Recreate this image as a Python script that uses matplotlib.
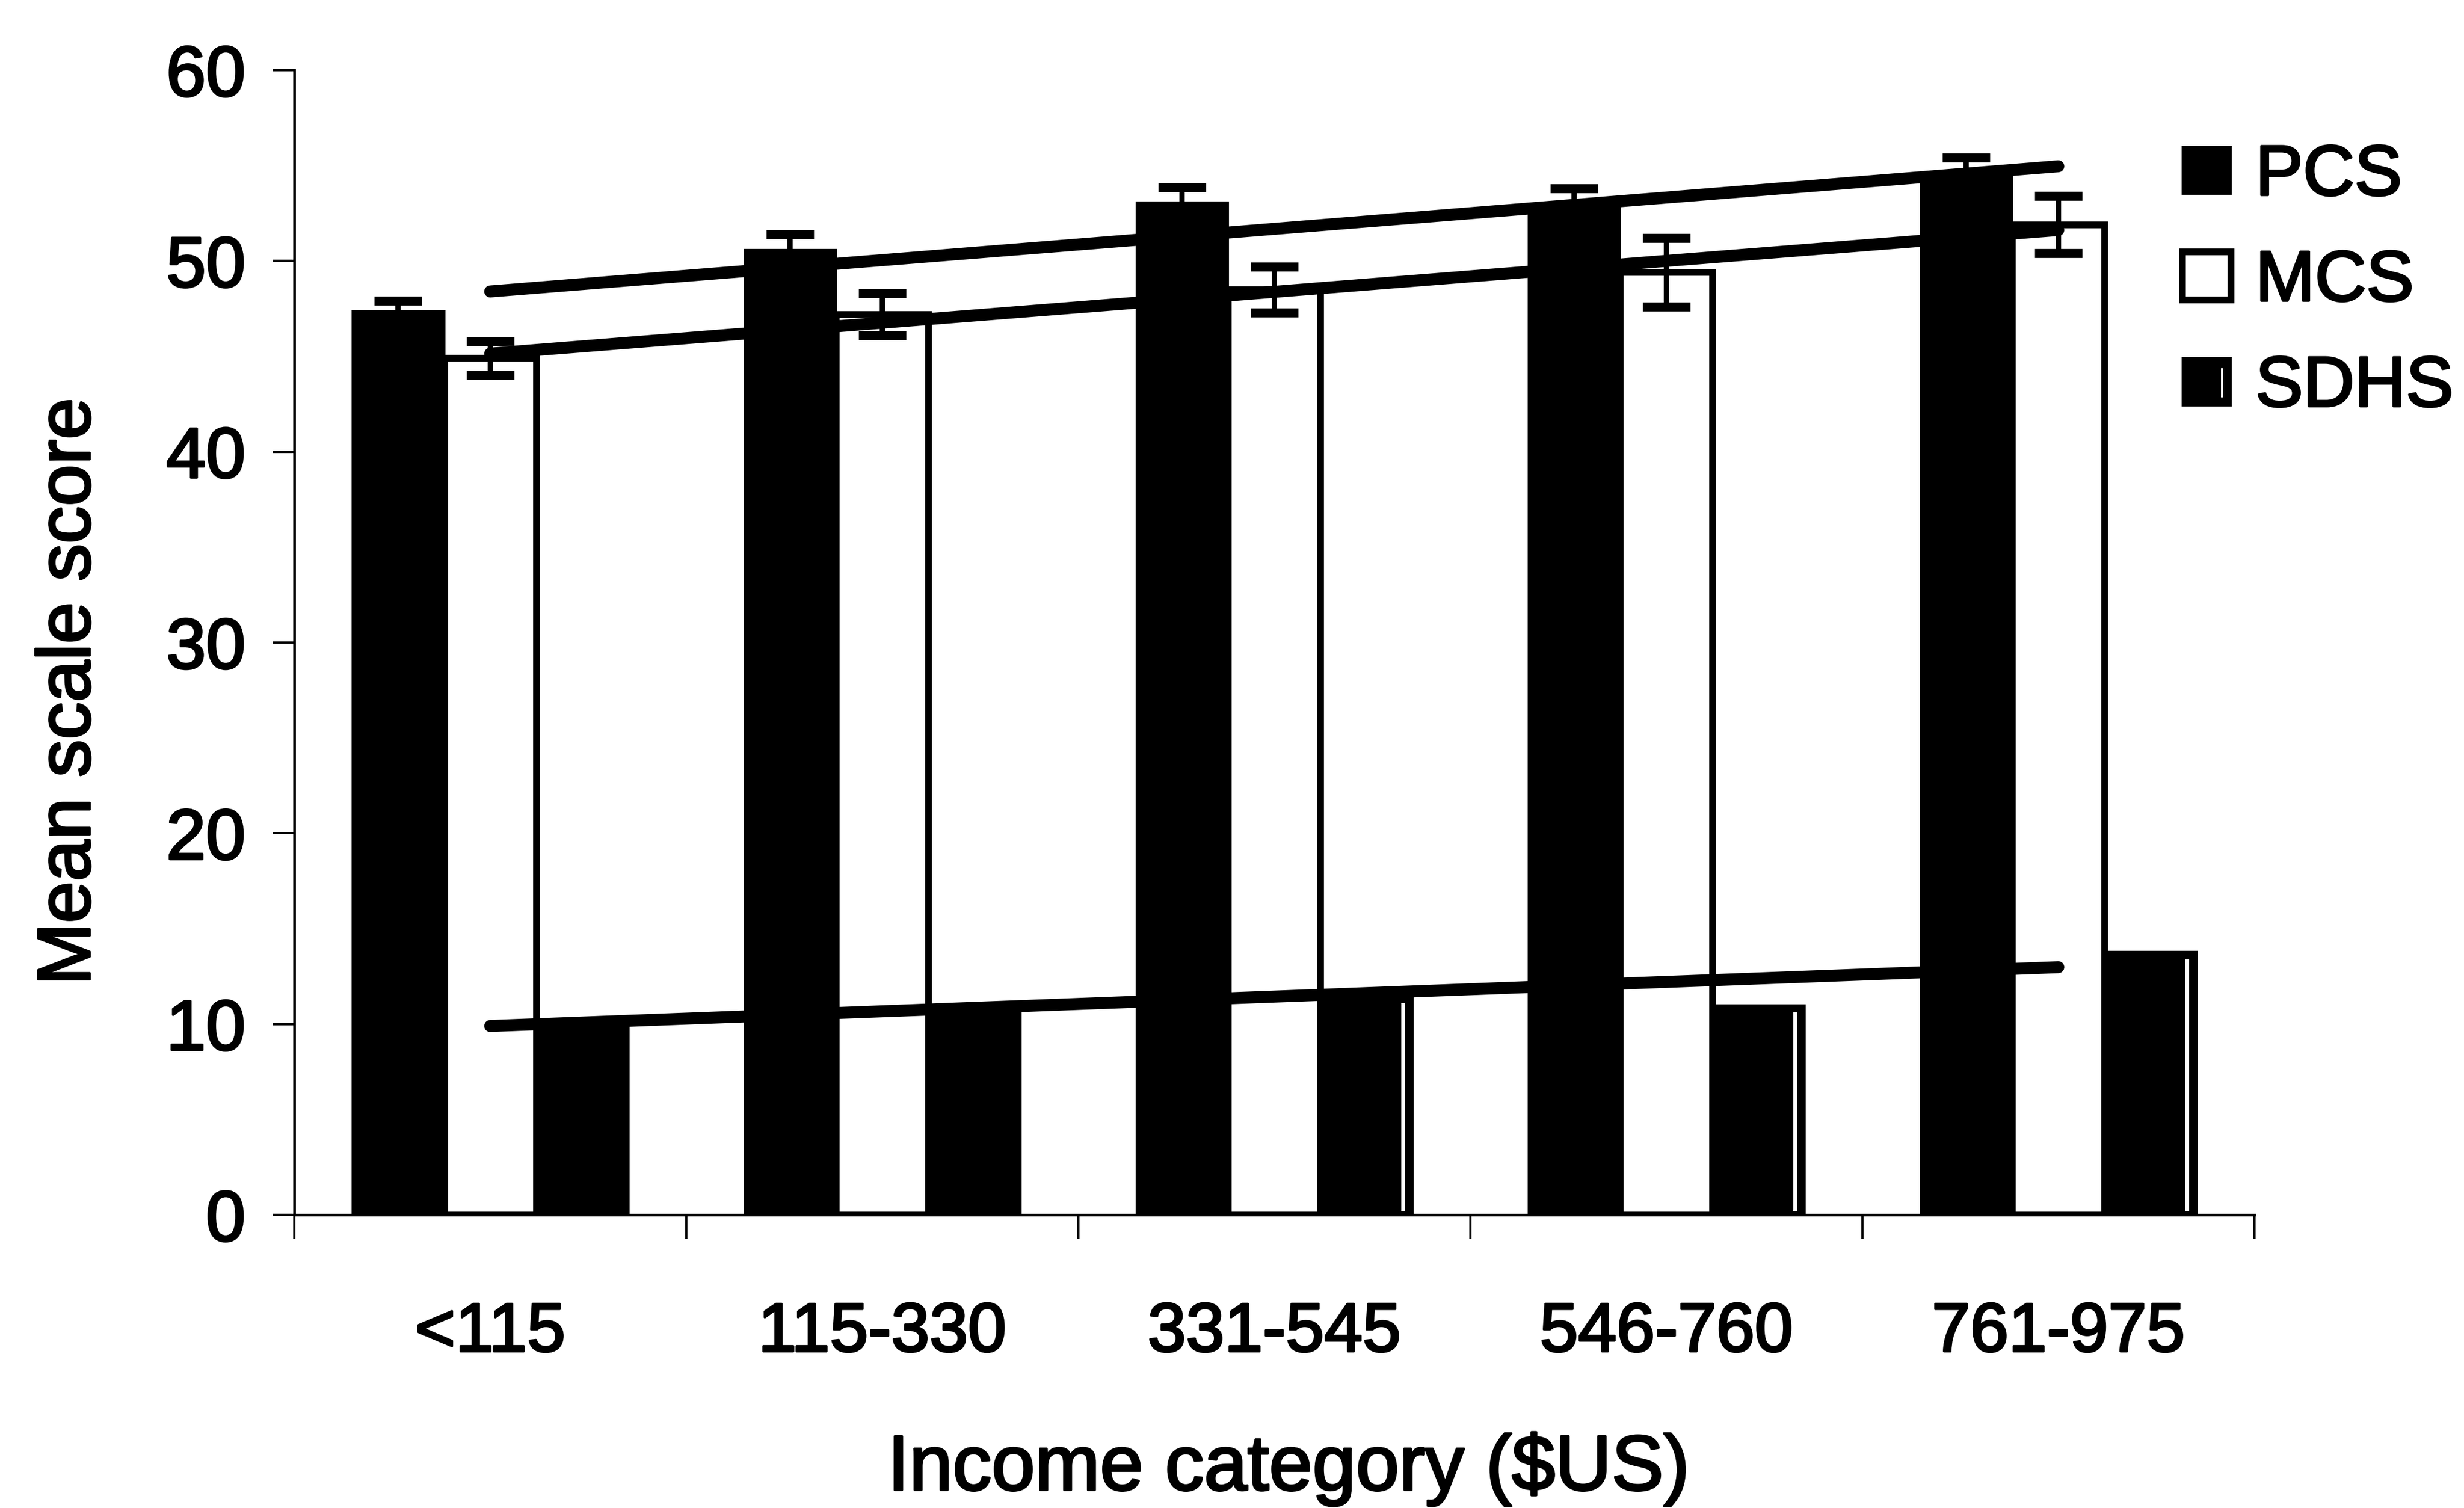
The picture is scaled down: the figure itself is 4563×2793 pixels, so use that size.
import numpy as np
import matplotlib
matplotlib.use("Agg")
import matplotlib.pyplot as plt
from matplotlib.patches import Patch, Rectangle
from matplotlib.legend_handler import HandlerPatch
import matplotlib.patheffects as pe

# Income groups and mean SF-36 / SDHS scale scores
categories = ["<115", "115-330", "331-545", "546-760", "761-975"]
series = ["PCS", "MCS", "SDHS"]
pcs_mean = [47.4, 50.6, 53.1, 52.8, 54.5]
pcs_err = [0.5, 0.8, 0.75, 1.0, 0.9]
mcs_mean = [44.9, 47.2, 48.5, 49.4, 51.9]
mcs_err = [0.9, 1.1, 1.2, 1.8, 1.5]
sdhs_mean = [10.0, 10.9, 11.5, 11.0, 13.8]
y_ticks = [0, 10, 20, 30, 40, 50, 60]

plt.rcParams["font.family"] = ["Liberation Sans", "DejaVu Sans"]
heavy = [pe.withStroke(linewidth=3, foreground="black")]


class StripedHandler(HandlerPatch):
    """Solid black swatch with a thin light streak near its right side."""

    def create_artists(self, legend, orig_handle, xdescent, ydescent,
                       width, height, fontsize, trans):
        base = Rectangle((-xdescent, -ydescent), width, height, facecolor="black",
                         edgecolor="black", linewidth=2, transform=trans)
        streak = Rectangle((-xdescent + 0.80 * width, -ydescent + 0.17 * height),
                           0.05 * width, 0.60 * height, facecolor="white",
                           linewidth=0, transform=trans)
        return [base, streak]


fig = plt.figure(figsize=(45.63, 27.93), dpi=100)
ax = fig.add_axes([0.1194, 0.1944, 0.7955, 0.7591])

x = np.arange(len(categories))
w = 0.235

ax.bar(x - w, pcs_mean, w, color="black", edgecolor="black", linewidth=2, zorder=2)
ax.bar(x, mcs_mean, w, color="white", edgecolor="black", linewidth=9, zorder=2)
ax.bar(x + w, sdhs_mean, w, color="black", edgecolor="black", linewidth=2, zorder=2)
# light streak inside the upper-income SDHS bars
streak_groups = x[2:]
ax.bar(streak_groups + w + 0.40 * w, np.array(sdhs_mean)[2:] - 0.6, 0.009, bottom=0.2,
       color="white", linewidth=0, zorder=2.5)

err_style = dict(fmt="none", ecolor="black", elinewidth=7, capsize=32, capthick=12, zorder=3)
ax.errorbar(x - w, pcs_mean, yerr=pcs_err, **err_style)
ax.errorbar(x, mcs_mean, yerr=mcs_err, **err_style)

# Linear trend line for each series, spanning the first to the last income group
for vals in (pcs_mean, mcs_mean, sdhs_mean):
    coef = np.polyfit(x, vals, 1)
    xs = np.array([x[0], x[-1]])
    ax.plot(xs, np.polyval(coef, xs), color="black", lw=16,
            solid_capstyle="round", zorder=4)

ax.set_xlim(-0.5, len(categories) - 0.5)
ax.set_ylim(0, 60)
ax.set_yticks(y_ticks)
ax.set_yticklabels([str(t) for t in y_ticks])
ax.set_xticks(np.arange(-0.5, len(categories), 1.0))
ax.set_xticklabels([])
ax.set_xticks(x, minor=True)
ax.set_xticklabels(categories, minor=True)

for side in ("top", "right"):
    ax.spines[side].set_visible(False)
for side in ("left", "bottom"):
    ax.spines[side].set_linewidth(3.5)
    ax.spines[side].set_color("black")

ax.tick_params(axis="y", which="major", direction="out", length=29, width=3,
               pad=36, labelsize=95, colors="black")
ax.tick_params(axis="x", which="major", direction="out", length=32, width=3)
ax.tick_params(axis="x", which="minor", length=0, pad=115, labelsize=92)

for lab in ax.get_yticklabels() + ax.get_xticklabels(minor=True):
    lab.set_path_effects(heavy)

fig.text(0.0285, 0.5413, "Mean scale score", rotation=90, ha="center", va="center",
         fontsize=100, path_effects=heavy)
fig.text(0.523, 0.012, "Income category ($US)", ha="center", va="baseline",
         fontsize=104, path_effects=heavy)

sdhs_handle = Patch(facecolor="black", edgecolor="black", linewidth=2)
handles = [Patch(facecolor="black", edgecolor="black", linewidth=2),
           Patch(facecolor="white", edgecolor="black", linewidth=9),
           sdhs_handle]
leg = fig.legend(handles, series, loc="upper left", bbox_to_anchor=(0.8856, 0.905),
                 frameon=False, fontsize=95, handlelength=0.68, handleheight=0.66,
                 handletextpad=0.35, labelspacing=0.55, borderpad=0, borderaxespad=0,
                 handler_map={sdhs_handle: StripedHandler()})
for t in leg.get_texts():
    t.set_path_effects(heavy)

fig.savefig("out.png", dpi=100, facecolor="white")
